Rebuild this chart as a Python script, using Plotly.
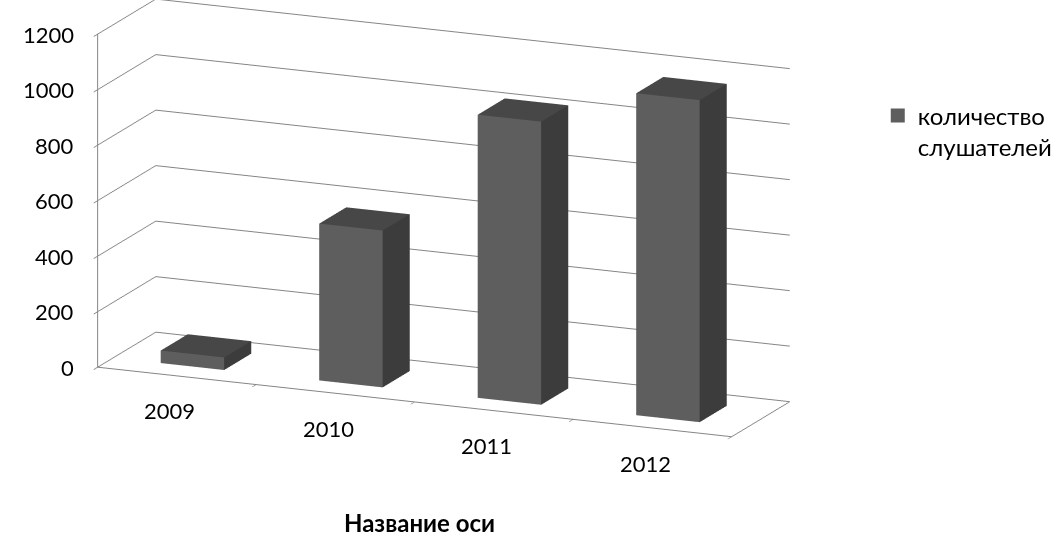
import numpy as np
import plotly.graph_objects as go

# ---- data ----
categories = ["2009", "2010", "2011", "2012"]
values = [45, 565, 1020, 1160]
series_name = "количество<br>слушателей"
z_ticks = [0, 200, 400, 600, 800, 1000, 1200]
axis_title = "Название оси"

# ---- style ----
FRONT = "#5e5e5e"
TOP = "#474747"
SIDE = "#3c3c3c"
GRID = "#858585"
FONT = "Lato"

# geometry (in category steps)
depth_len = 0.86
height_len = 2.0
bar_half_w = 0.2
bar_depth = 0.4
y0 = 0.5 - bar_depth / depth_len / 2
y1 = 0.5 + bar_depth / depth_len / 2

xs, ys, zs, ii, jj, kk, fc = [], [], [], [], [], [], []
for n, v in enumerate(values):
    cx = n + 1
    xa, xb = cx - bar_half_w, cx + bar_half_w
    base = len(xs)
    verts = [
        (xa, y0, 0), (xb, y0, 0), (xb, y1, 0), (xa, y1, 0),
        (xa, y0, v), (xb, y0, v), (xb, y1, v), (xa, y1, v),
    ]
    for (a, b, c) in verts:
        xs.append(a); ys.append(b); zs.append(c)
    faces = [
        ((0, 1, 5), FRONT), ((0, 5, 4), FRONT),   # front (y0)
        ((4, 5, 6), TOP), ((4, 6, 7), TOP),       # top
        ((1, 2, 6), SIDE), ((1, 6, 5), SIDE),     # right side
        ((3, 0, 4), SIDE), ((3, 4, 7), SIDE),     # left side
        ((2, 3, 7), SIDE), ((2, 7, 6), SIDE),     # back
        ((0, 2, 1), SIDE), ((0, 3, 2), SIDE),     # bottom
    ]
    for (t, col) in faces:
        ii.append(base + t[0]); jj.append(base + t[1]); kk.append(base + t[2])
        fc.append(col)

fig = go.Figure()
fig.add_trace(go.Mesh3d(
    x=xs, y=ys, z=zs, i=ii, j=jj, k=kk, facecolor=fc,
    flatshading=True,
    lighting=dict(ambient=1.0, diffuse=0.0, specular=0.0, roughness=1.0, fresnel=0.0),
    hoverinfo="skip", showscale=False, showlegend=False,
))

# legend entry
fig.add_trace(go.Scatter(
    x=[None], y=[None], mode="markers", name=series_name,
    marker=dict(symbol="square", size=14, color=FRONT), showlegend=True,
))

# camera: azimuth theta (to the right of front), elevation phi
theta, phi = np.radians(23.1), np.radians(14.9)
d = np.array([np.sin(theta) * np.cos(phi), -np.cos(theta) * np.cos(phi), np.sin(phi)])
right = np.array([np.cos(theta), np.sin(theta), 0.0])
up = np.array([-np.sin(phi) * np.sin(theta), np.sin(phi) * np.cos(theta), np.cos(phi)])

unit = 172.0 / 266.0  # scene units per category step
aspect = dict(x=4 * unit, y=depth_len * unit, z=height_len * unit)
px_per_unit = 266.0
shift_right_px, shift_down_px = 83.6, 48.5
c = right * (shift_right_px / px_per_unit) - up * (shift_down_px / px_per_unit)
r = 2.0
e = c + r * d

axis_common = dict(
    showbackground=False, showspikes=False, zeroline=False, title=dict(text=""),
    showticklabels=False,
)

scene_annotations = []
for v in z_ticks:
    scene_annotations.append(dict(x=0.5, y=0, z=v, text=str(v), showarrow=False,
                                  xanchor="right", yanchor="middle", xshift=-22,
                                  font=dict(family=FONT, size=22, color="#000000")))
for n, cat in enumerate(categories):
    scene_annotations.append(dict(x=n + 1, y=0, z=0, text=cat, showarrow=False,
                                  xanchor="center", yanchor="middle", xshift=-7, yshift=-35,
                                  font=dict(family=FONT, size=22, color="#000000")))

fig.update_layout(
    width=1058, height=533,
    margin=dict(l=0, r=0, t=0, b=0),
    paper_bgcolor="white", plot_bgcolor="white",
    font=dict(family=FONT, size=22, color="#000000"),
    xaxis=dict(visible=False), yaxis=dict(visible=False),
    hovermode=False,
    scene=dict(
        domain=dict(x=[0.0, 1.0], y=[0.0, 1.0]),
        aspectmode="manual",
        aspectratio=aspect,
        camera=dict(eye=dict(x=e[0], y=e[1], z=e[2]),
                    center=dict(x=c[0], y=c[1], z=c[2]),
                    up=dict(x=0, y=0, z=1),
                    projection=dict(type="orthographic")),
        xaxis=dict(axis_common, range=[0.5, 4.5], tickvals=[1.5, 2.5, 3.5, 4.5],
                   showgrid=False, showline=True, linecolor=GRID, linewidth=2,
                   ticks="outside", ticklen=10, tickcolor=GRID, tickwidth=2),
        yaxis=dict(axis_common, range=[0, 1], showgrid=False,
                   showline=True, linecolor=GRID, linewidth=2, ticks=""),
        zaxis=dict(axis_common, range=[0, 1200], tickvals=z_ticks, showgrid=True,
                   gridcolor=GRID, gridwidth=2, showline=True, linecolor=GRID, linewidth=2,
                   ticks="outside", ticklen=10, tickcolor=GRID, tickwidth=2),
        annotations=scene_annotations,
    ),
    legend=dict(x=0.832, y=0.825, xanchor="left", yanchor="top", valign="top",
                font=dict(family=FONT, size=24), bgcolor="rgba(0,0,0,0)"),
    annotations=[dict(text="<b>" + axis_title + "</b>", x=0.398, y=0.0, xref="paper", yref="paper",
                      yanchor="bottom", yshift=-6,
                      showarrow=False, font=dict(family=FONT, size=24, color="#000000"))],
)

fig.write_html("out.html")
